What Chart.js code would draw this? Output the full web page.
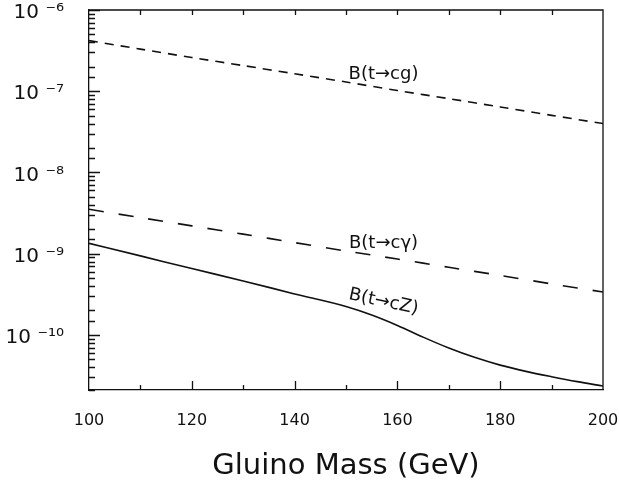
<!DOCTYPE html>
<html><head><meta charset="utf-8">
<script src="https://cdn.jsdelivr.net/npm/chart.js@4/dist/chart.umd.min.js"></script>
<style>html,body{margin:0;padding:0;background:#fff;overflow:hidden;}</style>
</head><body>
<canvas id="c" width="619" height="488" style="width:619px;height:488px;display:block"></canvas>
<script>
// ---- data ----
const gluinoMass = [100, 110, 120, 130, 140, 150, 160, 170, 180, 190, 200];
const brTcg      = [4.2e-7, 3.3e-7, 2.6e-7, 2.07e-7, 1.64e-7, 1.3e-7, 1.02e-7, 8.1e-8, 6.4e-8, 5.05e-8, 4.0e-8];
const brTcgamma  = [3.52e-9, 2.78e-9, 2.2e-9, 1.74e-9, 1.37e-9, 1.08e-9, 8.6e-10, 6.8e-10, 5.4e-10, 4.25e-10, 3.38e-10];
const gluinoMassZ = [100, 110, 120, 130, 140, 150, 155, 160, 165, 170, 175, 180, 185, 190, 195, 200];
const brTcZ      = [1.34e-9, 9.4e-10, 6.56e-10, 4.62e-10, 3.2e-10, 2.24e-10, 1.76e-10, 1.31e-10, 9.4e-11, 6.9e-11, 5.3e-11, 4.25e-11, 3.56e-11, 3.06e-11, 2.66e-11, 2.35e-11];
const curveLabels = ['B(t\u2192cg)', 'B(t\u2192c\u03b3)', 'B(t\u2192cZ)'];
const xTitle = 'Gluino Mass (GeV)';
const supDigits = {'-':'\u207b','0':'\u2070','1':'\u00b9','2':'\u00b2','3':'\u00b3','4':'\u2074','5':'\u2075','6':'\u2076','7':'\u2077','8':'\u2078','9':'\u2079'};

// label anchor positions in data coordinates
const labelAnchors = [
  {x: 157.3, y: 1.63e-7, rot: 0},
  {x: 157.3, y: 1.36e-9, rot: 0},
  {x: 157.3, y: 2.55e-10, rot: 0.21}
];

const ink = '#111';
const toPts = (xs, ys) => xs.map((x, i) => ({x: x, y: ys[i]}));

const axisDecor = {
  id: 'axisDecor',
  afterDraw(chart) {
    const {ctx, chartArea: a, scales: {x, y}} = chart;
    ctx.save();
    ctx.strokeStyle = ink;
    ctx.lineWidth = 1.3;
    // frame top and right
    ctx.beginPath();
    ctx.moveTo(a.left, a.top); ctx.lineTo(a.right, a.top); ctx.lineTo(a.right, a.bottom);
    ctx.stroke();
    // y ticks (inward on left axis)
    ctx.beginPath();
    y.ticks.forEach(t => {
      const py = y.getPixelForValue(t.value);
      if (py < a.top - 0.5 || py > a.bottom + 0.5) return;
      const lg = Math.log10(t.value);
      const major = Math.abs(lg - Math.round(lg)) < 1e-6;
      const len = major ? 11 : 6;
      ctx.moveTo(a.left, Math.round(py) + 0.5); ctx.lineTo(a.left + len, Math.round(py) + 0.5);
    });
    ctx.stroke();
    // x ticks bottom (major 20, minor 10) and top
    ctx.beginPath();
    for (let v = x.min + 10; v < x.max; v += 10) {
      const px = Math.round(x.getPixelForValue(v)) + 0.5;
      const major = (v % 20) === 0;
      ctx.moveTo(px, a.bottom); ctx.lineTo(px, a.bottom - (major ? 9 : 5));
      ctx.moveTo(px, a.top); ctx.lineTo(px, a.top + 5);
    }
    ctx.stroke();
    // curve labels
    ctx.fillStyle = ink;
    ctx.font = '18px "DejaVu Sans"';
    ctx.textAlign = 'center';
    ctx.textBaseline = 'middle';
    labelAnchors.forEach((l, i) => {
      const px = x.getPixelForValue(l.x), py = y.getPixelForValue(l.y);
      ctx.save();
      ctx.translate(px, py);
      ctx.rotate(l.rot);
      ctx.fillText(curveLabels[i], 0, 0);
      ctx.restore();
    });
    ctx.restore();
  }
};

new Chart(document.getElementById('c'), {
  type: 'line',
  data: {
    datasets: [
      {label: curveLabels[0], data: toPts(gluinoMass, brTcg), borderColor: ink, borderWidth: 1.6, borderDash: [9, 7], pointRadius: 0, tension: 0.3, fill: false},
      {label: curveLabels[1], data: toPts(gluinoMass, brTcgamma), borderColor: ink, borderWidth: 1.6, borderDash: [15, 15], pointRadius: 0, tension: 0.3, fill: false},
      {label: curveLabels[2], data: toPts(gluinoMassZ, brTcZ), borderColor: ink, borderWidth: 1.6, pointRadius: 0, cubicInterpolationMode: 'monotone', fill: false}
    ]
  },
  options: {
    responsive: false,
    animation: false,
    devicePixelRatio: 1,
    layout: {padding: {top: 10, right: 16, left: 0, bottom: 0}},
    plugins: {legend: {display: false}, tooltip: {enabled: false}},
    scales: {
      x: {
        type: 'linear', min: 100, max: 200,
        grid: {display: false},
        border: {display: true, color: ink, width: 1.3},
        ticks: {stepSize: 20, color: ink, font: {family: 'DejaVu Sans', size: 16}, padding: 13, maxRotation: 0},
        title: {display: true, text: xTitle, color: ink, font: {family: 'DejaVu Sans', size: 29}, padding: {top: 10, bottom: 4}},
        afterFit(s) { s.height = 98; s.paddingLeft = 0; s.paddingRight = 0; }
      },
      y: {
        type: 'logarithmic', min: 2.1e-11, max: 1e-6,
        grid: {display: false},
        border: {display: true, color: ink, width: 1.3},
        ticks: {
          autoSkip: false, color: ink, padding: 17, labelOffset: 3,
          font: {family: 'DejaVu Sans', size: 20},
          callback(v) {
            const lg = Math.log10(v);
            if (Math.abs(lg - Math.round(lg)) > 1e-6) return '';
            const e = String(Math.round(lg)).split('').map(c => supDigits[c]).join('');
            return '10 ' + e;
          }
        },
        afterFit(s) { s.width = 89; s.paddingTop = 0; s.paddingBottom = 0; }
      }
    }
  },
  plugins: [axisDecor]
});
</script>
</body></html>
